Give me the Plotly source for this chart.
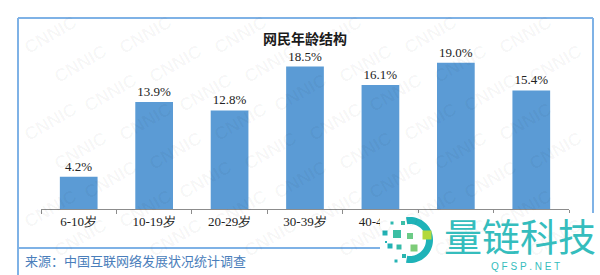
import plotly.graph_objects as go
import math

categories = ["6-10岁", "10-19岁", "20-29岁", "30-39岁", "40-49岁", "50-59岁", "60岁及以上"]
values = [4.2, 13.9, 12.8, 18.5, 16.1, 19.0, 15.4]
title_text = "网民年龄结构"
source_text = "来源：中国互联网络发展状况统计调查"
brand_text = "量链科技"
brand_sub = "Q F S P . N E T"

W, H = 600, 275
L, R, T, B = 41, 31, 55, 66
PW, PH = W - L - R, H - T - B


def px(x):
    return (x - L) / PW


def py(y):
    return (H - B - y) / PH


fig = go.Figure(go.Bar(
    x=categories, y=values,
    marker=dict(color="#5b9bd5", line=dict(width=0)),
    text=[f"{v:.1f}%" for v in values],
    textposition="outside",
    textfont=dict(family="Liberation Serif", size=13, color="#222"),
    cliponaxis=False,
))

shapes = []
annotations = []

# CNNIC background watermark
row = 0
y = 35
while y < 245:
    x = 50 + (row % 3) * 30
    while x < 565:
        annotations.append(dict(
            x=px(x), y=py(y), xref="paper", yref="paper", text="CNNIC",
            showarrow=False, textangle=-30, xanchor="center", yanchor="middle",
            font=dict(family="Liberation Sans", size=18, color="rgba(0,0,0,0.035)", weight="bold"),
        ))
        x += 95
    y += 29
    row += 1

# frame
frame_color = "#7fb2e6"
for (x0, y0, x1, y1) in [(18, 18, 593, 18), (18, 18, 18, 276), (593, 18, 593, 276),
                         (18, 248, 593, 248)]:
    shapes.append(dict(type="line", xref="paper", yref="paper",
                       x0=px(x0), x1=px(x1), y0=py(y0), y1=py(y1),
                       line=dict(color=frame_color, width=2)))

# white box for logo watermark
shapes.append(dict(type="rect", xref="paper", yref="paper",
                   x0=px(380), x1=px(600), y0=py(213), y1=py(275),
                   fillcolor="white", line=dict(width=0), layer="above"))

# logo arc (C shape)
cx, cy, ro, ri = 410, 240, 23, 16
pts_o = []
pts_i = []
for k in range(0, 41):
    a = math.radians(100 - 200 * k / 40)
    pts_o.append((cx + ro * math.cos(a), cy - ro * math.sin(a)))
for k in range(40, -1, -1):
    a = math.radians(100 - 200 * k / 40)
    pts_i.append((cx + ri * math.cos(a), cy - ri * math.sin(a)))
path = "M " + " L ".join(f"{px(a):.5f},{py(b):.5f}" for a, b in pts_o + pts_i) + " Z"
shapes.append(dict(type="path", xref="paper", yref="paper", path=path,
                   fillcolor="#1fb3b8", line=dict(width=0), layer="above"))

squares = [
    (392, 223, 3, "#2fb9b0"), (403, 223, 4, "#3dbfa8"),
    (385, 233, 5, "#23b2b5"), (397, 234, 8, "#3cbfa4"), (410, 236, 6, "#6ccb86"),
    (427, 235, 9, "#b3d83a"), (390, 246, 5, "#22b1b6"), (399, 247, 5, "#35bba9"),
    (414, 248, 7, "#7dcc78"), (404, 256, 4, "#2ab5b0"), (396, 261, 3, "#25b3b4"),
    (386, 242, 2, "#22b1b6"),
]
for sx, sy, s, c in squares:
    shapes.append(dict(type="rect", xref="paper", yref="paper",
                       x0=px(sx - s / 2), x1=px(sx + s / 2), y0=py(sy + s / 2), y1=py(sy - s / 2),
                       fillcolor=c, line=dict(width=0), layer="above"))

annotations += [
    dict(x=px(305), y=py(38), xref="paper", yref="paper", text=title_text, showarrow=False,
         xanchor="center", yanchor="middle",
         font=dict(family="Noto Sans CJK SC", size=14, color="#1a1a1a", weight="bold")),
    dict(x=px(23), y=py(260), xref="paper", yref="paper", text=source_text, showarrow=False,
         xanchor="left", yanchor="middle",
         font=dict(family="Noto Sans CJK SC", size=13, color="#4a7ebb")),
    dict(x=px(520), y=py(234), xref="paper", yref="paper", text=brand_text, showarrow=False,
         xanchor="center", yanchor="middle",
         font=dict(family="Noto Sans CJK SC", size=38, color="#35bdbd")),
    dict(x=px(525), y=py(266), xref="paper", yref="paper", text=brand_sub, showarrow=False,
         xanchor="center", yanchor="middle",
         font=dict(family="Liberation Sans", size=10, color="#35bdbd")),
]

fig.update_layout(
    width=W, height=H,
    margin=dict(l=L, r=R, t=T, b=B),
    paper_bgcolor="white", plot_bgcolor="rgba(0,0,0,0)",
    bargap=0.5, showlegend=False,
    xaxis=dict(showline=True, linecolor="#8c8c8c", linewidth=1,
               ticks="outside", tickson="boundaries", ticklen=4, tickcolor="#8c8c8c",
               showgrid=False,
               tickfont=dict(family="Liberation Serif", size=13, color="#222")),
    yaxis=dict(visible=False, range=[0, 20]),
    shapes=shapes, annotations=annotations,
)

fig.write_html("out.html")
